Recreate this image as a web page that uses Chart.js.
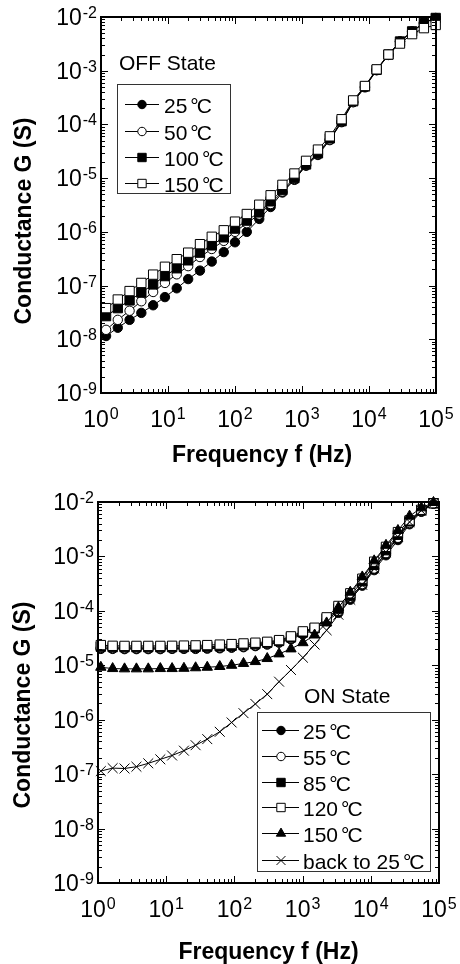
<!DOCTYPE html>
<html>
<head>
<meta charset="utf-8">
<script src="https://cdn.jsdelivr.net/npm/chart.js@4.4.0/dist/chart.umd.min.js"></script>
<style>
  body { margin: 0; background: #fff; }
  canvas { display: block; }
</style>
</head>
<body>
<canvas id="offChart" width="460" height="480"></canvas>
<canvas id="onChart" width="460" height="484"></canvas>
<script>
// axis decades (tick labels are 10^n)
const xDecades = [0, 1, 2, 3, 4, 5];
const yDecades = [-9, -8, -7, -6, -5, -4, -3, -2];

// OFF state
const freqOff = [1.19, 1.78, 2.67, 4.0, 6.0, 9.0, 13.5, 20, 30, 45, 68, 100, 150, 230, 340, 510, 770, 1150, 1730, 2600, 3900, 5800, 8700, 13000, 19500, 29000, 44000, 66000, 99000];
const offLabels = ['25℃', '50℃', '100℃', '150℃'];
const off25 = [1.15e-8, 1.64e-8, 2.3e-8, 3.1e-8, 4.3e-8, 6.1e-8, 8.9e-8, 1.32e-7, 1.9e-7, 2.8e-7, 4.2e-7, 6.4e-7, 1.0e-6, 1.74e-6, 2.9e-6, 5.4e-6, 9.3e-6, 1.7e-5, 2.7e-5, 5.1e-5, 1.1e-4, 2.6e-4, 4.9e-4, 1.02e-3, 1.96e-3, 3.5e-3, 5.3e-3, 7.7e-3, 9.5e-3];
const off50 = [1.5e-8, 2.3e-8, 3.4e-8, 5.1e-8, 7.6e-8, 1.12e-7, 1.62e-7, 2.3e-7, 3.4e-7, 4.8e-7, 6.8e-7, 1.0e-6, 1.45e-6, 2.1e-6, 3.3e-6, 5.6e-6, 9.6e-6, 1.75e-5, 2.8e-5, 5.2e-5, 1.12e-4, 2.6e-4, 5.0e-4, 1.03e-3, 1.98e-3, 3.5e-3, 5.4e-3, 7.8e-3, 9.6e-3];
const off100 = [2.7e-8, 3.8e-8, 5.3e-8, 7.4e-8, 1.05e-7, 1.5e-7, 2.1e-7, 2.95e-7, 4.1e-7, 5.6e-7, 7.9e-7, 1.15e-6, 1.62e-6, 2.3e-6, 3.7e-6, 6.0e-6, 1.0e-5, 1.8e-5, 2.9e-5, 5.5e-5, 1.15e-4, 2.7e-4, 5.1e-4, 1.04e-3, 2.0e-3, 3.5e-3, 5.4e-3, 7.8e-3, 9.6e-3];
const off150 = [3.8e-8, 5.5e-8, 7.9e-8, 1.12e-7, 1.6e-7, 2.24e-7, 3.1e-7, 4.1e-7, 5.9e-7, 8.1e-7, 1.07e-6, 1.55e-6, 2.15e-6, 3.2e-6, 4.8e-6, 7.5e-6, 1.22e-5, 2.1e-5, 3.4e-5, 6.0e-5, 1.25e-4, 2.8e-4, 5.2e-4, 1.06e-3, 2.0e-3, 3.2e-3, 4.8e-3, 6.2e-3, 7.1e-3];

// ON state
const freqOn = [1.1, 1.64, 2.45, 3.66, 5.46, 8.2, 12.2, 18.2, 27, 40, 61, 91, 136, 203, 303, 452, 675, 1010, 1500, 2250, 3350, 5000, 7500, 11200, 16700, 25000, 37000, 55000, 83000];
const onLabels = ['25℃', '55℃', '85℃', '120℃', '150℃', 'back to 25℃'];
const on25 = [2.0e-5, 2.0e-5, 1.98e-5, 1.98e-5, 1.98e-5, 1.98e-5, 2.0e-5, 2.0e-5, 2.0e-5, 2.02e-5, 2.05e-5, 2.1e-5, 2.15e-5, 2.25e-5, 2.4e-5, 2.6e-5, 3.0e-5, 3.7e-5, 4.5e-5, 6.5e-5, 9.2e-5, 1.6e-4, 2.9e-4, 5.6e-4, 1.05e-3, 2.0e-3, 3.9e-3, 6.6e-3, 9.3e-3];
const on55 = [2.08e-5, 2.06e-5, 2.05e-5, 2.05e-5, 2.05e-5, 2.05e-5, 2.06e-5, 2.07e-5, 2.08e-5, 2.1e-5, 2.12e-5, 2.17e-5, 2.22e-5, 2.32e-5, 2.48e-5, 2.7e-5, 3.1e-5, 3.9e-5, 4.7e-5, 6.9e-5, 1.0e-4, 1.75e-4, 3.1e-4, 6.0e-4, 1.15e-3, 2.2e-3, 4.1e-3, 6.8e-3, 9.4e-3];
const on85 = [2.2e-5, 2.15e-5, 2.15e-5, 2.15e-5, 2.15e-5, 2.15e-5, 2.16e-5, 2.17e-5, 2.18e-5, 2.2e-5, 2.23e-5, 2.28e-5, 2.35e-5, 2.45e-5, 2.6e-5, 2.8e-5, 3.25e-5, 4.0e-5, 4.8e-5, 7.2e-5, 1.1e-4, 1.9e-4, 3.5e-4, 7.0e-4, 1.3e-3, 2.5e-3, 4.4e-3, 7.0e-3, 9.5e-3];
const on120 = [2.35e-5, 2.28e-5, 2.27e-5, 2.27e-5, 2.27e-5, 2.27e-5, 2.28e-5, 2.3e-5, 2.32e-5, 2.35e-5, 2.4e-5, 2.45e-5, 2.52e-5, 2.6e-5, 2.7e-5, 2.9e-5, 3.4e-5, 4.2e-5, 4.9e-5, 7.6e-5, 1.23e-4, 2.1e-4, 3.9e-4, 8.0e-4, 1.5e-3, 2.8e-3, 4.6e-3, 7.2e-3, 9.5e-3];
const on150 = [9.2e-6, 8.7e-6, 8.6e-6, 8.6e-6, 8.6e-6, 8.7e-6, 8.7e-6, 8.8e-6, 9.0e-6, 9.2e-6, 9.5e-6, 1.0e-5, 1.08e-5, 1.17e-5, 1.33e-5, 1.62e-5, 2.0e-5, 2.6e-5, 3.6e-5, 6.0e-5, 1.15e-4, 2.2e-4, 4.2e-4, 8.3e-4, 1.6e-3, 3.0e-3, 5.5e-3, 7.8e-3, 9.8e-3];
const onBack = [1.14e-7, 1.29e-7, 1.27e-7, 1.37e-7, 1.58e-7, 1.87e-7, 2.2e-7, 2.7e-7, 3.4e-7, 4.4e-7, 6.0e-7, 8.9e-7, 1.32e-6, 1.95e-6, 2.95e-6, 5.0e-6, 8.2e-6, 1.38e-5, 2.4e-5, 4.4e-5, 8.5e-5, 1.6e-4, 3.0e-4, 6.0e-4, 1.2e-3, 2.3e-3, 4.3e-3, 7.0e-3, 9.5e-3];

const FONT = '"Liberation Sans", Arial, sans-serif';

// marker look per style
const markers = {
  dot:    { pointStyle: 'circle',   pointRadius: 4.7, fill: '#000' },
  ring:   { pointStyle: 'circle',   pointRadius: 4.7, fill: '#fff' },
  box:    { pointStyle: 'rect',     pointRadius: 6.6, fill: '#000' },
  openBox:{ pointStyle: 'rect',     pointRadius: 6.6, fill: '#fff' },
  tri:    { pointStyle: 'triangle', pointRadius: 6,   fill: '#000' },
  cross:  { pointStyle: 'crossRot', pointRadius: 7,   fill: '#000' }
};

function makeSet(label, freq, vals, mk, idx, total) {
  const m = markers[mk];
  return {
    label: label,
    data: freq.map((f, i) => ({ x: f, y: vals[i] })),
    showLine: true,
    borderColor: '#000',
    borderWidth: 1,
    pointStyle: m.pointStyle,
    pointRadius: m.pointRadius,
    pointBackgroundColor: m.fill,
    pointBorderColor: '#000',
    pointBorderWidth: 1,
    tension: 0,
    clip: false,
    order: total - idx   // later series drawn on top
  };
}

function powLabel(ctx, x, baseY, supY, exp, align) {
  const main = '10', sup = String(exp);
  ctx.font = '23px ' + FONT;
  const w1 = ctx.measureText(main).width;
  ctx.font = '16px ' + FONT;
  const w2 = ctx.measureText(sup).width;
  const total = w1 + 1 + w2;
  const x0 = align === 'right' ? x - total : x - total / 2;
  ctx.textAlign = 'left';
  ctx.textBaseline = 'alphabetic';
  ctx.font = '23px ' + FONT;
  ctx.fillText(main, x0, baseY);
  ctx.font = '16px ' + FONT;
  ctx.fillText(sup, x0 + w1 + 1, supY);
}

// the figure sets the degree sign as a wide glyph: number, small gap, then °C
function legendText(ctx, txt, x, y) {
  const parts = txt.split('℃');
  ctx.textAlign = 'left';
  ctx.textBaseline = 'alphabetic';
  ctx.font = '21px ' + FONT;
  ctx.fillText(parts[0], x, y);
  if (parts.length > 1) {
    const w = ctx.measureText(parts[0]).width;
    ctx.fillText('°', x + w + 3, y);
    const wd = ctx.measureText('°').width;
    ctx.fillText('C', x + w + 3 + wd - 2, y);
  }
}

function makeDecor(cfg) {
  return {
    id: 'decor',
    afterDatasetsDraw(chart) {
      const ctx = chart.ctx, a = chart.chartArea;
      const xs = chart.scales.x, ys = chart.scales.y;
      ctx.save();
      ctx.strokeStyle = '#000';
      ctx.lineWidth = 1;
      ctx.beginPath();
      xDecades.forEach(e => {
        for (let m = 1; m < 10; m++) {
          const v = m * Math.pow(10, e);
          if (v > xs.max * 1.0001) break;
          const px = Math.round(xs.getPixelForValue(v)) + 0.5;
          const len = m === 1 ? 7 : 4;
          ctx.moveTo(px, a.bottom); ctx.lineTo(px, a.bottom - len);
          ctx.moveTo(px, a.top); ctx.lineTo(px, a.top + len);
        }
      });
      yDecades.forEach(e => {
        for (let m = 1; m < 10; m++) {
          const v = m * Math.pow(10, e);
          if (v > ys.max * 1.0001) break;
          const py = Math.round(ys.getPixelForValue(v)) + 0.5;
          const len = m === 1 ? 7 : 4;
          ctx.moveTo(a.left, py); ctx.lineTo(a.left + len, py);
          ctx.moveTo(a.right, py); ctx.lineTo(a.right - len, py);
        }
      });
      ctx.stroke();
      ctx.lineWidth = 2;
      ctx.strokeRect(a.left, a.top, a.right - a.left, a.bottom - a.top);
      ctx.restore();
    },
    afterDraw(chart) {
      const ctx = chart.ctx, a = chart.chartArea;
      const xs = chart.scales.x, ys = chart.scales.y;
      ctx.save();
      ctx.fillStyle = '#000';
      // tick labels
      xDecades.forEach(e => {
        const px = xs.getPixelForValue(Math.pow(10, e));
        powLabel(ctx, px, a.bottom + 34, a.bottom + 25.5, e, 'center');
      });
      yDecades.forEach(e => {
        const py = ys.getPixelForValue(Math.pow(10, e));
        powLabel(ctx, a.left - 4, py + 8, py + 1, e, 'right');
      });
      // axis titles
      ctx.font = 'bold 23px ' + FONT;
      ctx.textAlign = 'center';
      ctx.textBaseline = 'alphabetic';
      ctx.fillText('Frequency f (Hz)', cfg.xTitleX, cfg.xTitleY);
      ctx.save();
      ctx.translate(cfg.yTitleX, cfg.yTitleY);
      ctx.rotate(-Math.PI / 2);
      ctx.fillText('Conductance G (S)', 0, 0);
      ctx.restore();

      // legend
      const lg = cfg.legend;
      ctx.font = '21px ' + FONT;
      ctx.textAlign = 'left';
      ctx.textBaseline = 'middle';
      ctx.fillText(lg.title, lg.titleX, lg.titleY);
      ctx.fillStyle = '#fff';
      ctx.fillRect(lg.box[0], lg.box[1], lg.box[2] - lg.box[0], lg.box[3] - lg.box[1]);
      ctx.strokeStyle = '#333';
      ctx.lineWidth = 1;
      ctx.strokeRect(lg.box[0] + 0.5, lg.box[1] + 0.5, lg.box[2] - lg.box[0], lg.box[3] - lg.box[1]);
      chart.data.datasets.forEach((ds, i) => {
        const y = Math.round(lg.rows[i]) + 0.5;
        ctx.strokeStyle = '#000';
        ctx.lineWidth = 1;
        ctx.beginPath();
        ctx.moveTo(lg.line[0], y); ctx.lineTo(lg.line[1], y);
        ctx.stroke();
        ctx.fillStyle = ds.pointBackgroundColor;
        const opts = { pointStyle: ds.pointStyle, radius: ds.pointRadius * 0.9, rotation: 0, borderWidth: 1 };
        if (Chart.helpers && Chart.helpers.drawPoint) {
          Chart.helpers.drawPoint(ctx, opts, lg.mark, y);
        } else {
          ctx.beginPath(); ctx.arc(lg.mark, y, opts.radius, 0, Math.PI * 2); ctx.fill(); ctx.stroke();
        }
        ctx.fillStyle = '#000';
        legendText(ctx, ds.label, lg.text, y + 8);
      });
      ctx.restore();
    }
  };
}

function buildChart(id, datasets, padding, cfg) {
  new Chart(document.getElementById(id), {
    type: 'scatter',
    data: { datasets: datasets },
    options: {
      responsive: false,
      animation: false,
      devicePixelRatio: 1,
      layout: { padding: padding },
      plugins: { legend: { display: false }, tooltip: { enabled: false } },
      scales: {
        x: { type: 'logarithmic', min: 1, max: 1e5, display: false },
        y: { type: 'logarithmic', min: 1e-9, max: 1e-2, display: false }
      }
    },
    plugins: [makeDecor(cfg)]
  });
}

const offSeries = [off25, off50, off100, off150];
const offMarks = ['dot', 'ring', 'box', 'openBox'];
buildChart('offChart',
  offSeries.map((s, i) => makeSet(offLabels[i], freqOff, s, offMarks[i], i, offSeries.length)),
  { left: 101, right: 24, top: 17, bottom: 87 },
  {
    xTitleX: 262, xTitleY: 462, yTitleX: 31, yTitleY: 221,
    legend: { title: 'OFF State', titleX: 119, titleY: 64, box: [117, 84, 230, 193],
              rows: [104, 130.5, 157, 183.3], line: [125, 159], mark: 142, text: 164 }
  });

const onSeries = [on25, on55, on85, on120, on150, onBack];
const onMarks = ['dot', 'ring', 'box', 'openBox', 'tri', 'cross'];
buildChart('onChart',
  onSeries.map((s, i) => makeSet(onLabels[i], freqOn, s, onMarks[i], i, onSeries.length)),
  { left: 98, right: 21, top: 22, bottom: 81 },
  {
    xTitleX: 268.5, xTitleY: 479, yTitleX: 30, yTitleY: 225,
    legend: { title: 'ON State', titleX: 304, titleY: 217, box: [257, 232, 430, 391],
              rows: [250, 275.7, 301.7, 326.7, 353.3, 380], line: [262, 299], mark: 281, text: 303 }
  });
</script>
</body>
</html>
